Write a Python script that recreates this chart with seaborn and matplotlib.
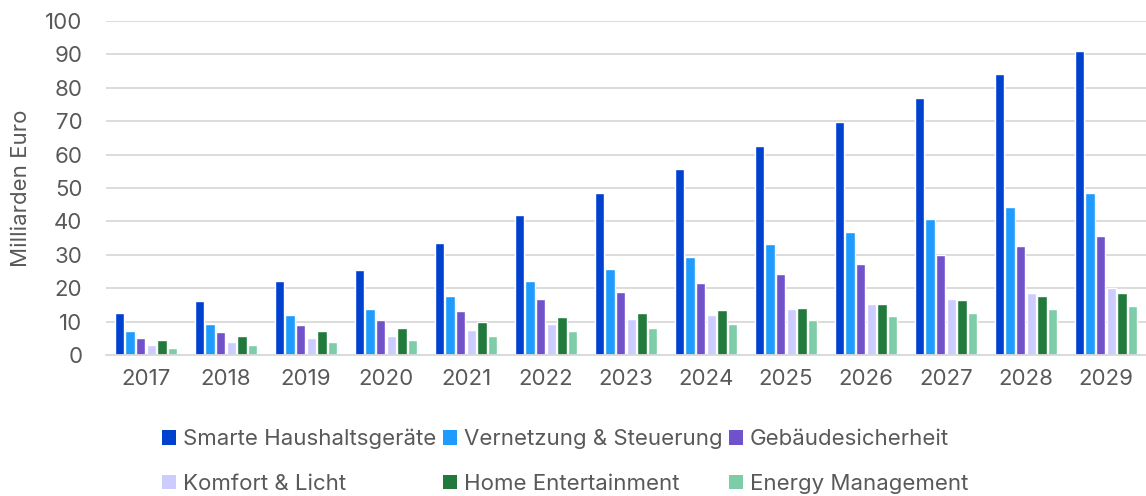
import numpy as np
import pandas as pd
import matplotlib
matplotlib.use("Agg")
import matplotlib.pyplot as plt
from matplotlib.patches import Patch
import seaborn as sns

# Marktvolumen Smart Home in Deutschland, Milliarden Euro
years = ["2017", "2018", "2019", "2020", "2021", "2022", "2023",
         "2024", "2025", "2026", "2027", "2028", "2029"]
segments = ["Smarte Haushaltsgeräte", "Vernetzung & Steuerung", "Gebäudesicherheit",
            "Komfort & Licht", "Home Entertainment", "Energy Management"]

haushaltsgeraete = [12.5, 16.3, 22.3, 25.5, 33.5, 42.0, 48.5, 55.6, 62.5, 69.8, 76.9, 84.1, 91.1]
vernetzung = [7.3, 9.2, 12.1, 13.7, 17.7, 22.1, 25.7, 29.4, 33.2, 36.9, 40.6, 44.4, 48.4]
sicherheit = [5.2, 6.8, 9.0, 10.6, 13.2, 16.7, 19.0, 21.7, 24.4, 27.3, 30.0, 32.7, 35.5]
komfort = [3.0, 4.0, 5.1, 5.8, 7.5, 9.2, 10.8, 12.1, 13.7, 15.4, 16.9, 18.5, 20.0]
entertainment = [4.6, 5.6, 7.3, 8.1, 9.8, 11.5, 12.5, 13.5, 14.2, 15.4, 16.4, 17.7, 18.6]
energy = [2.1, 2.9, 3.8, 4.6, 5.8, 7.2, 8.1, 9.3, 10.4, 11.6, 12.7, 13.7, 14.8]

colors = ["#0041CF", "#1F9BFF", "#7152CA", "#CCCCFF", "#217A3B", "#7ECDA9"]
text_color = "#595959"
grid_color = "#D9D9D9"
fs = 16

df = pd.DataFrame({"Jahr": years,
                   segments[0]: haushaltsgeraete,
                   segments[1]: vernetzung,
                   segments[2]: sicherheit,
                   segments[3]: komfort,
                   segments[4]: entertainment,
                   segments[5]: energy})
long_df = df.melt(id_vars="Jahr", var_name="Segment", value_name="Wert")

sns.set_style("white")
plt.rcParams["font.family"] = ["Inter", "DejaVu Sans"]

fig = plt.figure(figsize=(11.46, 4.96), dpi=100)
ax = fig.add_axes([0.0925, 0.284, 0.9075, 0.674])

sns.barplot(data=long_df, x="Jahr", y="Wert", hue="Segment", hue_order=segments,
            palette=colors, width=0.8, gap=0.12, saturation=1, ax=ax, legend=False)

ax.set_ylim(0, 100)
ax.set_xlim(-0.5, len(years) - 0.5)
ax.set_yticks(np.arange(0, 101, 10))
ax.yaxis.grid(True, color=grid_color, linewidth=1.3)
ax.set_axisbelow(True)
for side in ["top", "right", "left"]:
    ax.spines[side].set_visible(False)
ax.spines["bottom"].set_color(grid_color)
ax.spines["bottom"].set_linewidth(1.3)

ax.tick_params(axis="y", length=0, pad=17, labelsize=fs, labelcolor=text_color)
ax.tick_params(axis="x", length=0, pad=10, labelsize=fs, labelcolor=text_color)
ax.set_xlabel("")
ax.set_ylabel("Milliarden Euro", fontsize=fs, color=text_color, labelpad=10)

# Legende in drei Spalten, zeilenweise gefuellt
order = [0, 3, 1, 4, 2, 5]
handles = [Patch(facecolor=colors[i], edgecolor="none") for i in order]
labels = [segments[i] for i in order]
fig.legend(handles, labels, loc="center", ncol=3, frameon=False,
           bbox_to_anchor=(0.493, 0.070), fontsize=fs, labelcolor=text_color,
           handlelength=0.65, handleheight=0.65, handletextpad=0.3,
           columnspacing=0.3, labelspacing=1.1)

fig.savefig("out.png", dpi=100)
